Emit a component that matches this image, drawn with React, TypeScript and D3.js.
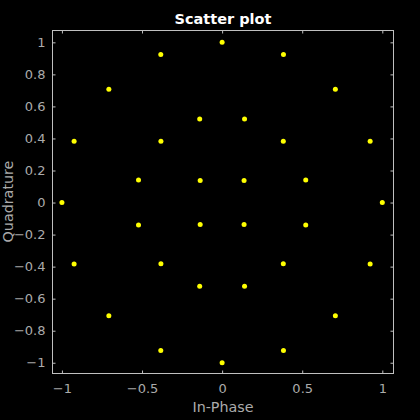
import React, { useEffect, useRef } from 'react';
import * as d3 from 'd3';

// constellation points (in-phase / quadrature)
const outerI = [1, 0.924, 0.707, 0.383, 0, -0.383, -0.707, -0.924, -1, -0.924, -0.707, -0.383, 0, 0.383, 0.707, 0.924];
const outerQ = [0, 0.383, 0.707, 0.924, 1, 0.924, 0.707, 0.383, 0, -0.383, -0.707, -0.924, -1, -0.924, -0.707, -0.383];
const middleI = [0.522, 0.382, 0.14, -0.14, -0.382, -0.522, -0.522, -0.382, -0.14, 0.14, 0.382, 0.522];
const middleQ = [0.14, 0.382, 0.522, 0.522, 0.382, 0.14, -0.14, -0.382, -0.522, -0.522, -0.382, -0.14];
const innerI = [0.137, -0.137, -0.137, 0.137];
const innerQ = [0.137, 0.137, -0.137, -0.137];

const xTicks = [-1, -0.5, 0, 0.5, 1];
const yTicks = [-1, -0.8, -0.6, -0.4, -0.2, 0, 0.2, 0.4, 0.6, 0.8, 1];

const ScatterPlot = () => {
    const svgRef = useRef<SVGSVGElement>(null);

    useEffect(() => {
        const width = 420;
        const height = 420;
        const box = { left: 52, right: 394, top: 30, bottom: 373 };
        const lineColor = '#c0c0c0';
        const textColor = '#ababab';
        const font = '"DejaVu Sans", sans-serif';

        const svg = d3.select(svgRef.current)
            .attr('width', width)
            .attr('height', height);
        svg.selectAll('*').remove();

        svg.append('rect')
            .attr('width', width)
            .attr('height', height)
            .attr('fill', '#000');

        const xScale = d3.scaleLinear().domain([-1.062, 1.073]).range([box.left, box.right]);
        const yScale = d3.scaleLinear().domain([-1.064, 1.077]).range([box.bottom, box.top]);

        const points = [
            ...outerI.map((v, i) => ({ i: v, q: outerQ[i] })),
            ...middleI.map((v, i) => ({ i: v, q: middleQ[i] })),
            ...innerI.map((v, i) => ({ i: v, q: innerQ[i] })),
        ];

        const styleAxis = (g: any, withText: boolean) => {
            g.select('.domain').remove();
            g.selectAll('line').attr('stroke', lineColor);
            if (withText) {
                g.selectAll('text')
                    .attr('fill', textColor)
                    .style('font-family', font)
                    .style('font-size', '13px');
            } else {
                g.selectAll('text').remove();
            }
        };

        svg.append('g')
            .attr('transform', `translate(0,${box.bottom + 0.5})`)
            .call(d3.axisBottom(xScale).tickValues(xTicks).tickFormat(d3.format('~g')).tickSizeInner(-3).tickSizeOuter(0).tickPadding(10))
            .call(g => styleAxis(g, true));
        svg.append('g')
            .attr('transform', `translate(0,${box.top + 0.5})`)
            .call(d3.axisTop(xScale).tickValues(xTicks).tickSizeInner(-3).tickSizeOuter(0))
            .call(g => styleAxis(g, false));
        svg.append('g')
            .attr('transform', `translate(${box.left + 0.5},0)`)
            .call(d3.axisLeft(yScale).tickValues(yTicks).tickFormat(d3.format('~g')).tickSizeInner(-3).tickSizeOuter(0).tickPadding(7))
            .call(g => styleAxis(g, true));
        svg.append('g')
            .attr('transform', `translate(${box.right - 0.5},0)`)
            .call(d3.axisRight(yScale).tickValues(yTicks).tickSizeInner(-3).tickSizeOuter(0))
            .call(g => styleAxis(g, false));

        // box around the plot area
        svg.append('rect')
            .attr('x', box.left + 0.5)
            .attr('y', box.top + 0.5)
            .attr('width', box.right - box.left - 1)
            .attr('height', box.bottom - box.top)
            .attr('fill', 'none')
            .attr('stroke', lineColor)
            .attr('stroke-width', 1);

        svg.append('g')
            .selectAll('circle')
            .data(points)
            .join('circle')
            .attr('cx', d => xScale(d.i))
            .attr('cy', d => yScale(d.q))
            .attr('r', 2.5)
            .attr('fill', '#ffff00');

        svg.append('text')
            .attr('x', (box.left + box.right) / 2)
            .attr('y', 24)
            .attr('text-anchor', 'middle')
            .attr('fill', '#ffffff')
            .style('font-family', font)
            .style('font-size', '14.5px')
            .style('font-weight', 'bold')
            .text('Scatter plot');

        svg.append('text')
            .attr('x', (box.left + box.right) / 2)
            .attr('y', 412)
            .attr('text-anchor', 'middle')
            .attr('fill', textColor)
            .style('font-family', font)
            .style('font-size', '14.3px')
            .text('In-Phase');

        svg.append('text')
            .attr('transform', `translate(13,${(box.top + box.bottom) / 2}) rotate(-90)`)
            .attr('text-anchor', 'middle')
            .attr('fill', textColor)
            .style('font-family', font)
            .style('font-size', '14.3px')
            .text('Quadrature');
    }, []);

    return (
        <svg ref={svgRef} style={{ position: 'absolute', left: 0, top: 0, display: 'block' }} />
    );
};

export default function App() {
    return <ScatterPlot />;
}
